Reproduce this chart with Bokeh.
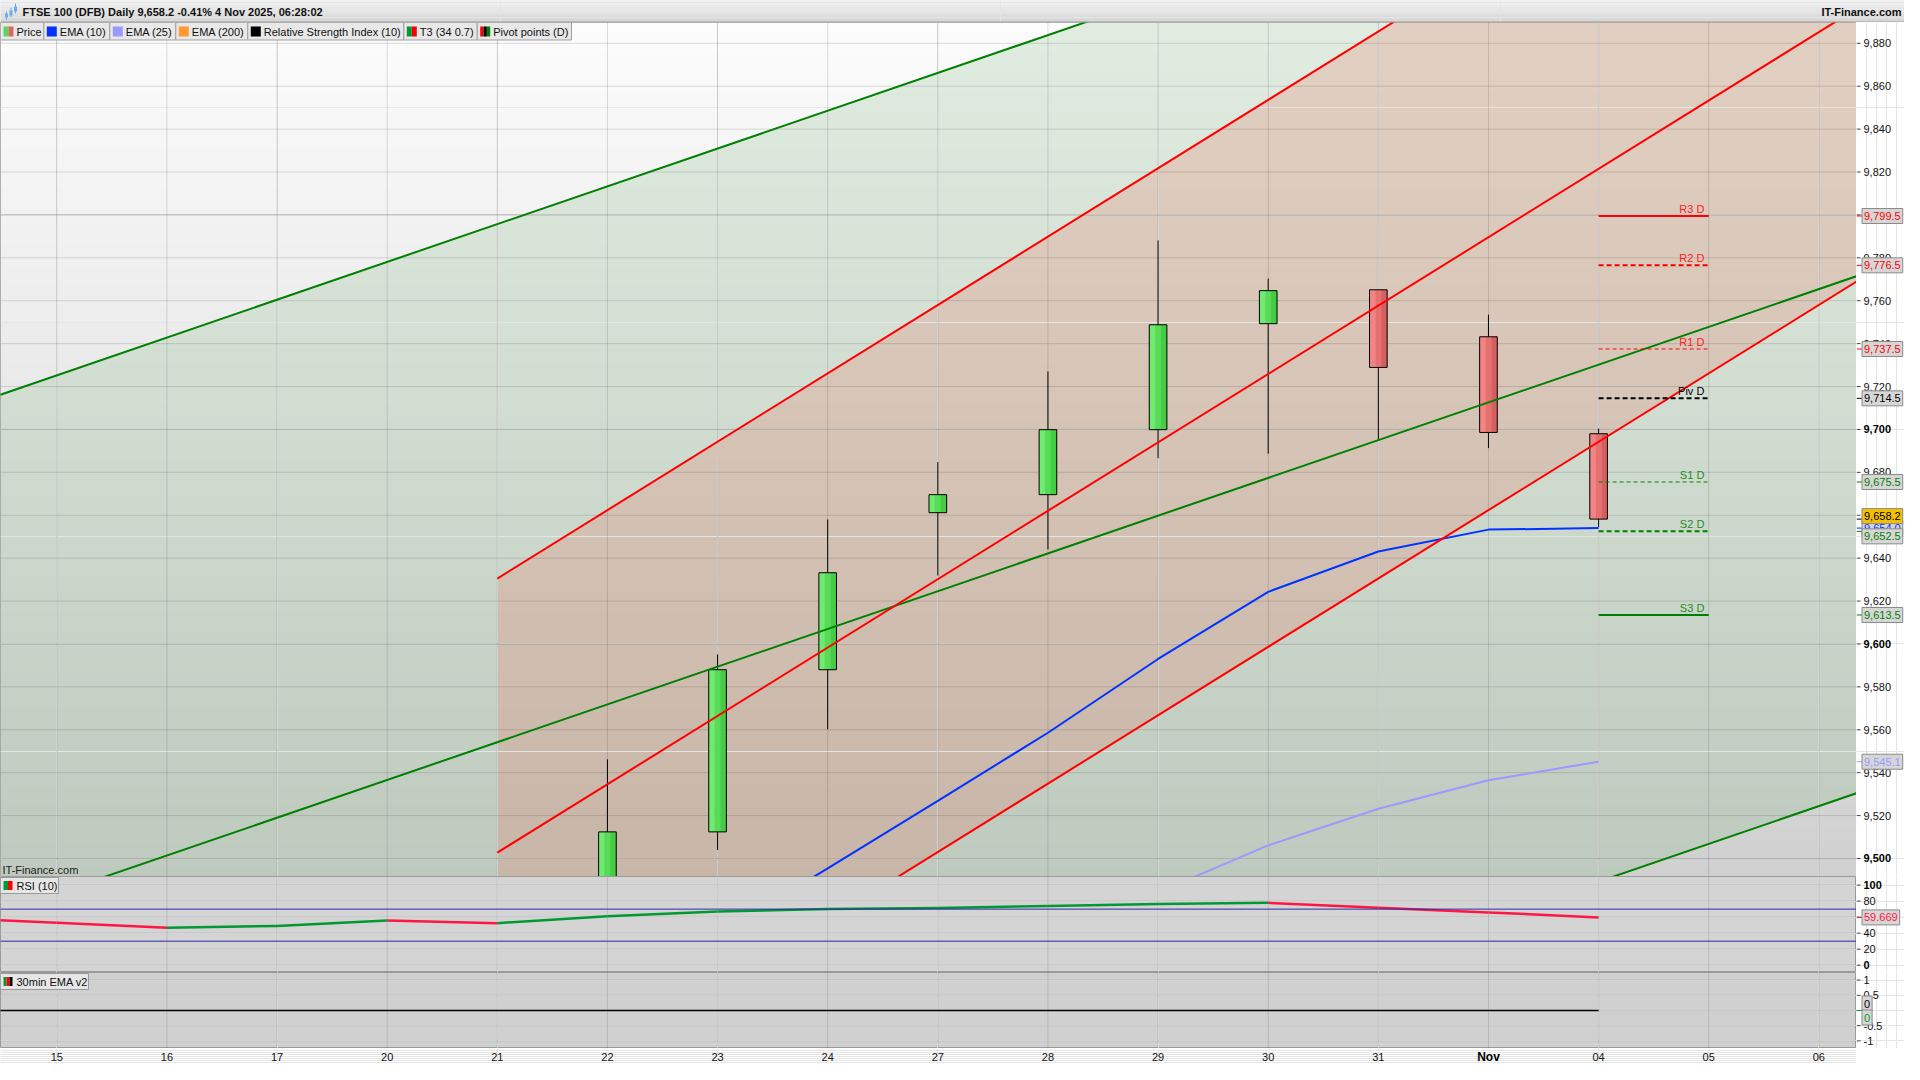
import numpy as np
from bokeh.plotting import figure
from bokeh.layouts import column, row
from bokeh.models import Range1d, Span, Spacer
from bokeh.core.properties import value
from bokeh.embed import file_html
from bokeh.resources import INLINE

FONT = "Liberation Sans"

# ---------------- data ----------------
title_text = "FTSE 100 (DFB) Daily 9,658.2 -0.41% 4 Nov 2025, 06:28:02"
brand_text = "IT-Finance.com"

date_labels = ["15", "16", "17", "20", "21", "22", "23", "24", "27", "28",
               "29", "30", "31", "Nov", "04", "05", "06"]
date_idx = list(range(len(date_labels)))

candle_idx = [5, 6, 7, 8, 9, 10, 11, 12, 13, 14]
c_open = [9470.0, 9512.4, 9588.0, 9661.2, 9669.6, 9699.9, 9749.3, 9765.1, 9743.2, 9698.0]
c_high = [9546.2, 9595.1, 9658.0, 9684.8, 9727.0, 9788.1, 9770.3, 9765.1, 9753.5, 9700.4]
c_low = [9465.0, 9504.0, 9560.3, 9631.9, 9644.1, 9686.6, 9688.7, 9695.3, 9691.3, 9654.5]
c_close = [9512.4, 9588.0, 9633.2, 9669.6, 9699.9, 9748.8, 9764.7, 9728.9, 9698.6, 9658.2]

ema10_idx = [5, 6, 7, 8, 9, 10, 11, 12, 13, 14]
ema10 = [9437.0, 9464.4, 9495.4, 9526.9, 9558.6, 9593.0, 9624.3, 9643.1, 9653.3, 9654.0]
ema25_idx = [9, 10, 11, 12, 13, 14]
ema25 = [9466.0, 9484.2, 9506.1, 9523.2, 9536.5, 9545.1]

rsi_idx = [-1, 0, 1, 2, 3, 4, 5, 6, 7, 8, 9, 10, 11, 12, 13, 14]
rsi = [59.1, 52.9, 46.7, 49.0, 55.7, 52.5, 61.2, 67.1, 70.0, 71.5, 73.8, 76.3,
       77.8, 71.8, 65.9, 59.669]
rsi_levels = [70, 30]

ema_v2_idx = [-1, 0, 1, 2, 3, 4, 5, 6, 7, 8, 9, 10, 11, 12, 13, 14]
ema_v2 = [0.0, 0.0, 0.0, 0.0, 0.0, 0.0, 0.0, 0.0, 0.0, 0.0, 0.0, 0.0, 0.0, 0.0, 0.0, 0.0]

pivot_names = ["R3 D", "R2 D", "R1 D", "Piv D", "S1 D", "S2 D", "S3 D"]
pivot_vals = [9799.5, 9776.5, 9737.5, 9714.5, 9675.5, 9652.5, 9613.5]
pivot_from, pivot_to = 14, 15

# drawn trend channels: endpoints (bar index, price)
green_x = [-1, 17]
green_upper = [9707.6, 10024.8]
green_mid = [9466.2, 9783.0]
green_lower = [9225.2, 9542.0]
red_x = [4, 17]
red_upper = [9630.5, 10044.9]
red_mid = [9502.7, 9917.1]
red_lower = [9375.5, 9789.9]

legend_names = ["Price", "EMA (10)", "EMA (25)", "EMA (200)",
                "Relative Strength Index (10)", "T3 (34 0.7)", "Pivot points (D)"]
legend_swatches = [["#5cd65c", "#e06666"], ["#0033ff"], ["#9999ff"], ["#ff9933"],
                   ["#000000"], ["#009933", "#ff0000"], ["#ff0000", "#000000", "#008000"]]

main_ticks = [9500, 9520, 9540, 9560, 9580, 9600, 9620, 9640, 9660, 9680, 9700,
              9720, 9740, 9760, 9780, 9800, 9820, 9840, 9860, 9880]
main_bold = [9500, 9600, 9700, 9800]
rsi_ticks = [0, 20, 40, 60, 80, 100]
rsi_bold = [0, 100]
ema_ticks = [-1, -0.5, 0, 0.5, 1]
ema_tick_text = ["-1", "-0.5", "0", "0.5", "1"]

# ---------------- layout ----------------
W = 1904
AX_W = 48
FRAME_W = W - AX_W
H_HEAD, H_MAIN, H_RSI, H_EMA, H_XAX = 22, 854, 96, 76, 16

PX_PER_BAR = 110.13
X0 = -0.511
X1 = X0 + FRAME_W / PX_PER_BAR
Y0, Y1 = 9491.6, 9889.7
R0, R1 = -9.1, 110.7
E0, E1 = -1.25, 1.25
xr = Range1d(X0, X1)
yr_main = Range1d(Y0, Y1)
yr_rsi = Range1d(R0, R1)
yr_ema = Range1d(E0, E1)

CHAR_W = {",": 3.06, ".": 3.06, "-": 3.66}


def text_w(s):
    return sum(CHAR_W.get(ch, 6.12) for ch in s)


def px2x(px):
    return X0 + px * (X1 - X0) / FRAME_W


def py2y(py, y0, y1, h):
    return y1 - py * (y1 - y0) / h


def hex_rgb(c):
    return [int(c[i:i + 2], 16) for i in (1, 3, 5)]


def vgradient(c_bottom, c_top, n):
    """RGBA image, one column, n rows, bottom row first."""
    img = np.empty((n, 1), dtype=np.uint32)
    view = img.view(dtype=np.uint8).reshape((n, 1, 4))
    a, b = hex_rgb(c_bottom), hex_rgb(c_top)
    for i in range(n):
        t = i / (n - 1)
        for k in range(3):
            view[i, 0, k] = int(round(a[k] + (b[k] - a[k]) * t))
        view[i, 0, 3] = 255
    return img


def panel(h, yr, bg):
    return figure(width=FRAME_W, height=h, x_range=xr, y_range=yr, output_backend="svg",
                  toolbar_location=None, x_axis_location=None, y_axis_location=None,
                  min_border=0, outline_line_color="#9a9a9a", background_fill_color=bg)


def axis_fig(h, yr, ticks, labels, bold_flags):
    a = figure(width=AX_W, height=h, x_range=Range1d(0, AX_W), y_range=yr,
               output_backend="svg", toolbar_location=None, x_axis_location=None,
               y_axis_location=None, min_border=0, outline_line_color=None,
               background_fill_color="white")
    a.segment(x0=[0] * len(ticks), y0=ticks, x1=[4] * len(ticks), y1=ticks,
              line_color="#444444", line_width=1)
    norm = [(t, s) for t, s, b in zip(ticks, labels, bold_flags) if not b]
    bold = [(t, s) for t, s, b in zip(ticks, labels, bold_flags) if b]
    if norm:
        a.text(x=[7] * len(norm), y=[t for t, _ in norm], text=[s for _, s in norm],
               text_font=value(FONT), text_font_size="11px", text_color="#111111",
               text_baseline="middle")
    if bold:
        a.text(x=[7] * len(bold), y=[t for t, _ in bold], text=[s for _, s in bold],
               text_font=value(FONT), text_font_size="11px", text_font_style="bold",
               text_color="#000000", text_baseline="middle")
    return a


def tag(a, h, y0, y1, v, text, color, bg="#d6d6d6", yoff=0):
    upp = (y1 - y0) / h
    c = v + yoff * upp
    bw = text_w(text) + 4
    a.segment(x0=[0], y0=[v], x1=[6], y1=[v], line_color=color, line_width=1)
    a.quad(left=[5.5], right=[5.5 + bw], top=[c + 7.5 * upp], bottom=[c - 7.5 * upp],
           fill_color=bg, line_color="#8a8a8a", line_width=1)
    a.text(x=[7.5], y=[c], text=[text], text_font=value(FONT), text_font_size="11px",
           text_color=color, text_baseline="middle")


def box_label(fig, y0, y1, h, width_px, text, colors):
    fig.quad(left=[px2x(0)], right=[px2x(width_px)], top=[py2y(1, y0, y1, h)],
             bottom=[py2y(17, y0, y1, h)], fill_color="#e6e6e6", line_color="#9a9a9a")
    n = len(colors)
    sw = 9.0 / n
    fig.quad(left=[px2x(3 + k * sw) for k in range(n)],
             right=[px2x(3 + (k + 1) * sw) for k in range(n)],
             top=[py2y(4.5, y0, y1, h)] * n, bottom=[py2y(13.5, y0, y1, h)] * n,
             fill_color=colors, line_color=None)
    fig.text(x=[px2x(16)], y=[py2y(9, y0, y1, h)], text=[text], text_font=value(FONT),
             text_font_size="11px", text_color="#111111", text_baseline="middle")


def grids(f, yticks, color, bold_y=None, bold_color=None):
    for t in date_idx:
        f.add_layout(Span(location=t, dimension="height", line_color=color, line_width=1,
                          level="underlay"))
    for t in yticks:
        c = bold_color if (bold_y and t in bold_y) else color
        f.add_layout(Span(location=t, dimension="width", line_color=c, line_width=1,
                          level="underlay"))


# ---------------- header ----------------
hd = figure(width=W, height=H_HEAD, x_range=Range1d(0, W), y_range=Range1d(0, H_HEAD),
            output_backend="svg", toolbar_location=None, x_axis_location=None,
            y_axis_location=None, min_border=0, outline_line_color=None,
            background_fill_color="#e4e4e4")
hd.image_rgba(image=[vgradient("#d4d4d4", "#f4f4f4", 64)], x=0, y=0, dw=W, dh=H_HEAD,
              level="image")
hd.segment(x0=[0], y0=[0.5], x1=[W], y1=[0.5], line_color="#9a9a9a", line_width=1)
hd.segment(x0=[6, 10.5, 15], y0=[3, 5, 9], x1=[6, 10.5, 15], y1=[11, 15, 19],
           line_color="#6aaee8", line_width=1)
hd.vbar(x=[6, 10.5, 15], width=3, bottom=[5, 7, 11], top=[9, 12, 16],
        fill_color="#6aaee8", line_color=None)
hd.text(x=[22], y=[11], text=[title_text], text_font=value(FONT), text_font_style="bold",
        text_font_size="11px", text_color="#111111", text_baseline="middle")
hd.text(x=[W - 3], y=[11], text=[brand_text], text_font=value(FONT), text_font_style="bold",
        text_font_size="11px", text_color="#111111", text_baseline="middle", text_align="right")

# ---------------- main price panel ----------------
p = panel(H_MAIN, yr_main, "#e6e6e6")
p.image_rgba(image=[vgradient("#d0d0d0", "#fcfcfc", 256)], x=X0, y=Y0, dw=X1 - X0,
             dh=Y1 - Y0, level="image")
p.patch(x=[green_x[0], green_x[1], green_x[1], green_x[0]],
        y=[green_upper[0], green_upper[1], green_lower[1], green_lower[0]],
        fill_color="#84b684", fill_alpha=0.22, line_color=None, level="image")
p.patch(x=[red_x[0], red_x[1], red_x[1], red_x[0]],
        y=[red_upper[0], red_upper[1], red_lower[1], red_lower[0]],
        fill_color="#e47d64", fill_alpha=0.25, line_color=None, level="image")
grids(p, main_ticks, "rgba(0,0,0,0.13)", main_bold, "rgba(0,0,0,0.24)")

p.line(ema25_idx, ema25, line_color="#9999ff", line_width=2)
p.line(ema10_idx, ema10, line_color="#0033ff", line_width=2)

body_top = [max(o, c) for o, c in zip(c_open, c_close)]
body_bot = [min(o, c) for o, c in zip(c_open, c_close)]
is_up = [c >= o for o, c in zip(c_open, c_close)]
p.segment(x0=candle_idx, y0=c_low, x1=candle_idx, y1=c_high, line_color="#000000", line_width=1)
BW = 0.16
up_cols = ["#70ea70", "#58dc58", "#42cd42"]
dn_cols = ["#f48484", "#e67070", "#d65e5e"]
for k, off in enumerate([-BW / 3, 0, BW / 3]):
    p.vbar(x=[i + off for i in candle_idx], width=BW / 3 + 0.002, top=body_top, bottom=body_bot,
           fill_color=[up_cols[k] if u else dn_cols[k] for u in is_up], line_color=None)
p.vbar(x=candle_idx, width=BW, top=body_top, bottom=body_bot, fill_color=None,
       line_color="#000000", line_width=1)

for yy in (green_upper, green_mid, green_lower):
    p.line(green_x, yy, line_color="#008000", line_width=2)
for yy in (red_upper, red_mid, red_lower):
    p.line(red_x, yy, line_color="#ff0000", line_width=2)

pivot_colors = ["#ff0000", "#ff0000", "#ff0000", "#000000", "#008000", "#008000", "#008000"]
pivot_label_colors = ["#ff2020", "#ff2020", "#ff2020", "#000000", "#1e8c1e", "#1e8c1e", "#1e8c1e"]
pivot_widths = [2, 2, 1, 2, 1, 2, 2]
pivot_dashes = ["solid", "5 3", "4 3", "5 3", "4 3", "5 3", "solid"]
for v, c, wdt, d in zip(pivot_vals, pivot_colors, pivot_widths, pivot_dashes):
    p.segment(x0=[pivot_from], y0=[v], x1=[pivot_to], y1=[v], line_color=c,
              line_width=wdt, line_dash=d)
p.text(x=[pivot_to - 0.04] * len(pivot_vals), y=pivot_vals, text=pivot_names,
       text_color=pivot_label_colors, text_font=value(FONT), text_font_size="11px",
       text_align="right", text_baseline="bottom", y_offset=-1)

edges = [0, 43.3, 109.3, 175.3, 247.3, 403.3, 476.7, 571]
p.quad(left=[px2x(e) for e in edges[:-1]], right=[px2x(e) for e in edges[1:]],
       top=[py2y(0, Y0, Y1, H_MAIN)] * 7, bottom=[py2y(17.5, Y0, Y1, H_MAIN)] * 7,
       fill_color="#e8e8e8", line_color="#a0a0a0")
for e, cols in zip(edges[:-1], legend_swatches):
    n = len(cols)
    sw = 10.0 / n
    p.quad(left=[px2x(e + 3 + k * sw) for k in range(n)],
           right=[px2x(e + 3 + (k + 1) * sw) for k in range(n)],
           top=[py2y(4, Y0, Y1, H_MAIN)] * n, bottom=[py2y(14, Y0, Y1, H_MAIN)] * n,
           fill_color=cols, line_color=None)
p.text(x=[px2x(e + 16) for e in edges[:-1]], y=[py2y(9, Y0, Y1, H_MAIN)] * 7,
       text=legend_names, text_font=value(FONT), text_font_size="11px",
       text_color="#111111", text_baseline="middle")
p.text(x=[px2x(2)], y=[py2y(853, Y0, Y1, H_MAIN)], text=[brand_text], text_font=value(FONT),
       text_font_size="11px", text_color="#222222", text_baseline="bottom")

pa = axis_fig(H_MAIN, yr_main, main_ticks, ["{:,}".format(t) for t in main_ticks],
              [t in main_bold for t in main_ticks])
fmt = "{:,.1f}"
for v in pivot_vals[:3]:
    tag(pa, H_MAIN, Y0, Y1, v, fmt.format(v), "#ff0000")
tag(pa, H_MAIN, Y0, Y1, pivot_vals[3], fmt.format(pivot_vals[3]), "#000000")
tag(pa, H_MAIN, Y0, Y1, pivot_vals[4], fmt.format(pivot_vals[4]), "#008000")
tag(pa, H_MAIN, Y0, Y1, ema10[-1], fmt.format(ema10[-1]), "#0033ff")
tag(pa, H_MAIN, Y0, Y1, c_close[-1], fmt.format(c_close[-1]), "#000000", bg="#f5c000", yoff=3)
tag(pa, H_MAIN, Y0, Y1, pivot_vals[5], fmt.format(pivot_vals[5]), "#008000", yoff=-5)
tag(pa, H_MAIN, Y0, Y1, pivot_vals[6], fmt.format(pivot_vals[6]), "#008000")
tag(pa, H_MAIN, Y0, Y1, ema25[-1], fmt.format(ema25[-1]), "#9999ff")

# ---------------- RSI panel ----------------
r = panel(H_RSI, yr_rsi, "#d4d4d4")
grids(r, rsi_ticks, "rgba(0,0,0,0.12)")
for lv in rsi_levels:
    r.add_layout(Span(location=lv, dimension="width", line_color="#2a2aa8", line_width=1))
rsi_cols = ["#009933" if b > a else "#ff1744" for a, b in zip(rsi[:-1], rsi[1:])]
r.segment(x0=rsi_idx[:-1], y0=rsi[:-1], x1=rsi_idx[1:], y1=rsi[1:], line_color=rsi_cols,
          line_width=2.5)
box_label(r, R0, R1, H_RSI, 58, "RSI (10)", ["#009933", "#ff0000"])
ra = axis_fig(H_RSI, yr_rsi, rsi_ticks, [str(t) for t in rsi_ticks],
              [t in rsi_bold for t in rsi_ticks])
tag(ra, H_RSI, R0, R1, rsi[-1], "{:.3f}".format(rsi[-1]), "#ff1744")

# ---------------- 30min EMA v2 panel ----------------
e = panel(H_EMA, yr_ema, "#d0d0d0")
grids(e, ema_ticks, "rgba(0,0,0,0.12)")
e.line(ema_v2_idx, ema_v2, line_color="#000000", line_width=1.5)
box_label(e, E0, E1, H_EMA, 88, "30min EMA v2", ["#009933", "#ff0000", "#000000"])
ea = axis_fig(H_EMA, yr_ema, ema_ticks, ema_tick_text, [False] * len(ema_ticks))
tag(ea, H_EMA, E0, E1, ema_v2[-1], "0", "#000000", yoff=7)
tag(ea, H_EMA, E0, E1, ema_v2[-1], "0", "#009933", yoff=-7)

# ---------------- date strip ----------------
xs = figure(width=FRAME_W, height=H_XAX, x_range=xr, y_range=Range1d(0, H_XAX),
            output_backend="svg", toolbar_location=None, x_axis_location=None,
            y_axis_location=None, min_border=0, outline_line_color=None,
            background_fill_color="white")
norm_dates = [(i, s) for i, s in zip(date_idx, date_labels) if s != "Nov"]
xs.text(x=[i for i, _ in norm_dates], y=[8] * len(norm_dates), text=[s for _, s in norm_dates],
        text_font=value(FONT), text_font_size="11px", text_color="#111111",
        text_align="center", text_baseline="middle")
xs.text(x=[date_labels.index("Nov")], y=[8], text=["Nov"], text_font=value(FONT),
        text_font_size="12px", text_font_style="bold", text_color="#000000",
        text_align="center", text_baseline="middle")

layout = column(hd,
                row(p, pa, spacing=0),
                row(r, ra, spacing=0),
                row(e, ea, spacing=0),
                row(xs, Spacer(width=AX_W, height=H_XAX), spacing=0),
                spacing=0)
open("out.html", "w").write(file_html(layout, INLINE))
